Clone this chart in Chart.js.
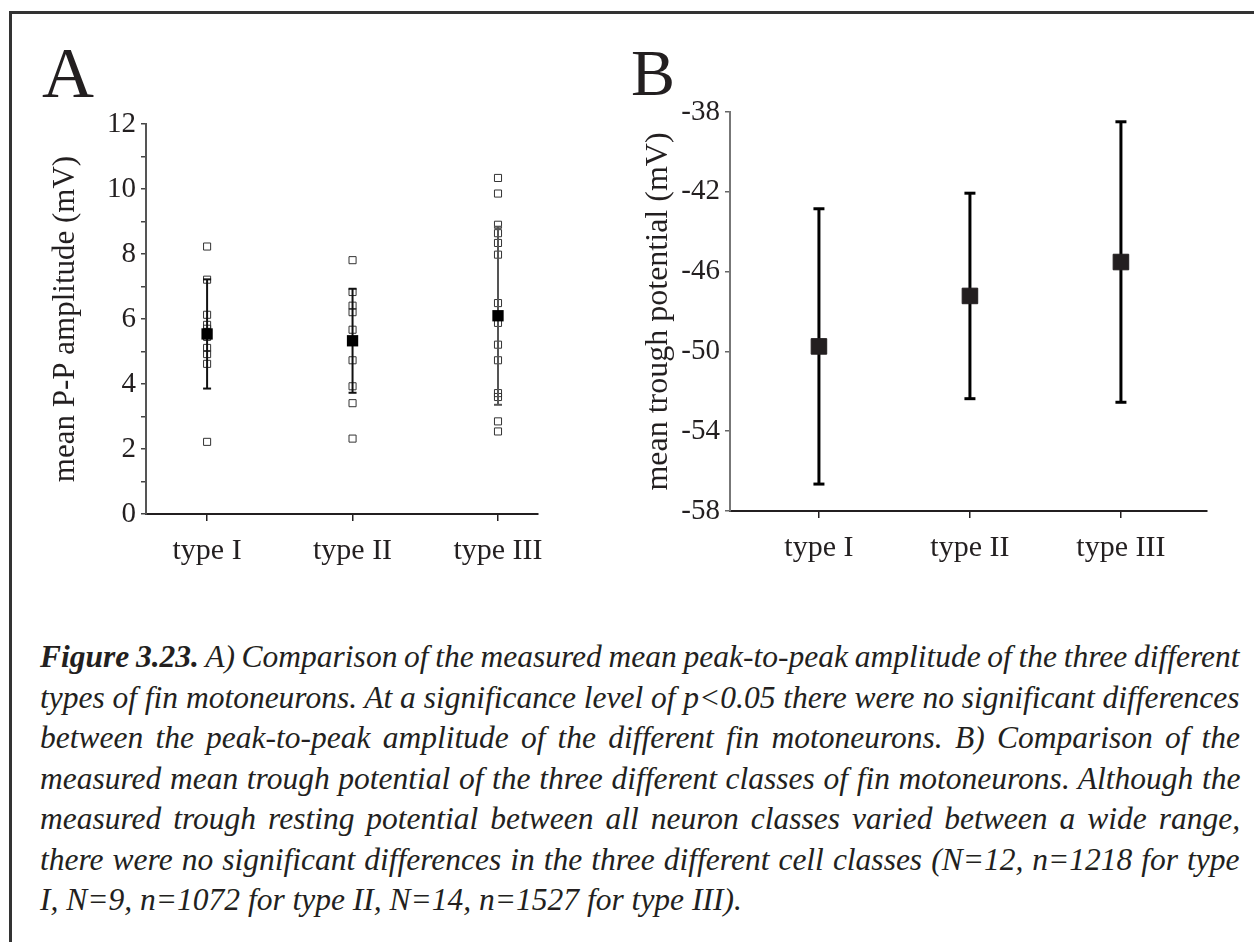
<!DOCTYPE html>
<html>
<head>
<meta charset="utf-8">
<script src="https://cdn.jsdelivr.net/npm/chart.js@4.4.0/dist/chart.umd.min.js"></script>
<style>
	body { margin: 0; background: #fff; width: 1254px; height: 942px; overflow: hidden; position: relative; font-family: "Liberation Serif", "Times New Roman", serif; color: #231f20; }
	#frame { position: absolute; left: 9px; top: 11px; width: 1400px; height: 1100px; border-top: 3px solid #333; border-left: 3px solid #333; }
	.letter { position: absolute; line-height: 1; }
	canvas { position: absolute; }
	#caption { position: absolute; left: 40px; top: 637px; width: 1200px; font-style: italic; font-size: 31.5px; line-height: 40.5px; }
	#caption div { white-space: nowrap; width: max-content; }
</style>
</head>
<body>
<div id="frame"></div>
<div class="letter" style="left:42px;top:37px;font-size:72px;">A</div>
<div class="letter" style="left:631px;top:40px;font-size:66px;">B</div>
<canvas id="graficoA" width="540" height="490" style="left:30px;top:90px;"></canvas>
<canvas id="graficoB" width="630" height="520" style="left:600px;top:60px;"></canvas>
<div id="caption">
	<div class="j"><b>Figure 3.23.</b> A) Comparison of the measured mean peak-to-peak amplitude of the three different</div>
	<div class="j">types of fin motoneurons. At a significance level of p&lt;0.05 there were no significant differences</div>
	<div class="j">between the peak-to-peak amplitude of the different fin motoneurons. B) Comparison of the</div>
	<div class="j">measured mean trough potential of the three different classes of fin motoneurons. Although the</div>
	<div class="j">measured trough resting potential between all neuron classes varied between a wide range,</div>
	<div class="j">there were no significant differences in the three different cell classes (N=12, n=1218 for type</div>
	<div>I, N=9, n=1072 for type II, N=14, n=1527 for type III).</div>
</div>
<script>
// categorias
var categories = ['type I', 'type II', 'type III'];

// A: amplitud P-P de cada neurona (mV)
var ampTypeI = [8.23, 7.21, 6.13, 5.82, 5.7, 5.6, 5.5, 5.45, 5.11, 4.92, 4.62, 2.22];
var ampTypeII = [7.81, 6.83, 6.41, 6.21, 5.67, 4.73, 3.93, 3.41, 2.32];
var ampTypeIII = [10.34, 9.86, 8.90, 8.64, 8.34, 7.98, 6.49, 5.88, 5.21, 4.73, 3.72, 3.60, 2.85, 2.54];
var ampMean = [5.54, 5.33, 6.10];
var ampSD = [1.68, 1.60, 2.74];
var ampTicks = [0, 2, 4, 6, 8, 10, 12];

// B: potencial valle (mV)
var troughMean = [-49.75, -47.22, -45.52];
var troughSD = [6.9, 5.15, 7.03];
var troughTicks = [-58, -54, -50, -46, -42, -38];

var negro = '#231f20';
var fuente = 'Liberation Serif';

// ajustar cada linea del texto al ancho de 1200px
document.querySelectorAll('#caption .j').forEach(function (linea) {
	var espacios = (linea.textContent.trim().match(/ /g) || []).length;
	var sobra = 1200 - linea.offsetWidth;
	var ws = sobra / espacios;
	if (ws < -2.5) {
		var letras = linea.textContent.trim().length;
		linea.style.letterSpacing = ((sobra + 2.5 * espacios) / letras) + 'px';
		ws = -2.5;
	}
	linea.style.wordSpacing = ws + 'px';
	var resto = 1200 - linea.offsetWidth;
	linea.style.wordSpacing = (ws + resto / espacios) + 'px';
});

function barra(i, media, sd, color, ancho, cap) {
	return {
		type: 'scatter',
		showLine: true,
		data: [{ x: i + 1, y: media - sd }, { x: i + 1, y: media + sd }],
		borderColor: color,
		borderWidth: ancho,
		pointStyle: 'line',
		pointRadius: cap,
		pointBorderWidth: ancho,
		pointBorderColor: color,
		pointBackgroundColor: color
	};
}

function ejeX(min, max, alto) {
	return {
		type: 'linear',
		min: min,
		max: max,
		afterBuildTicks: function (s) { s.ticks = categories.map(function (c, i) { return { value: i + 1 }; }); },
		afterFit: function (s) { s.height = alto; },
		ticks: { callback: function (v) { return categories[v - 1]; }, font: { family: fuente, size: 30 }, color: negro, padding: 12, autoSkip: false, maxRotation: 0 },
		grid: { drawOnChartArea: false, tickLength: 7, color: negro, lineWidth: 1.5 },
		border: { color: negro, width: 2 }
	};
}

// ---- grafico A ----
var datosA = [];
datosA.push({
	data: ampMean.map(function (m, i) { return { x: i + 1, y: m }; }),
	pointStyle: 'rect', pointRadius: 8, borderWidth: 0, backgroundColor: '#000', borderColor: '#000'
});
ampMean.forEach(function (m, i) {
	datosA.push(barra(i, m, ampSD[i], i === 2 ? '#555' : '#111', 2, 4));
});
[ampTypeI, ampTypeII, ampTypeIII].forEach(function (serie, i) {
	datosA.push({
		data: serie.map(function (v) { return { x: i + 1, y: v }; }),
		pointStyle: 'rect', pointRadius: 5, borderWidth: 1, borderColor: '#333', backgroundColor: 'rgba(0,0,0,0)'
	});
});

new Chart(document.getElementById('graficoA').getContext('2d'), {
	type: 'scatter',
	data: { datasets: datosA },
	options: {
		responsive: false,
		animation: false,
		layout: { padding: { left: 0, top: 34, right: 32, bottom: 0 } },
		plugins: { legend: { display: false }, tooltip: { enabled: false } },
		scales: {
			x: ejeX(0.58, 3.275, 66),
			y: {
				min: 0,
				max: 12,
				afterFit: function (s) { s.width = 116; },
				ticks: {
					stepSize: 1,
					autoSkip: false,
					callback: function (v) { return ampTicks.indexOf(v) >= 0 ? v : ''; },
					font: { family: fuente, size: 29 }, color: negro, padding: 5
				},
				grid: { drawOnChartArea: false, tickLength: 5, color: '#444', lineWidth: 1.5 },
				border: { color: '#555', width: 2 },
				title: { display: true, text: 'mean P-P amplitude (mV)', font: { family: fuente, size: 31 }, color: negro, padding: { top: 17, bottom: 0 } }
			}
		}
	}
});

// ---- grafico B ----
var datosB = [];
datosB.push({
	data: troughMean.map(function (m, i) { return { x: i + 1, y: m }; }),
	pointStyle: 'rect', pointRadius: 11, borderWidth: 1, backgroundColor: negro, borderColor: negro
});
troughMean.forEach(function (m, i) {
	datosB.push(barra(i, m, troughSD[i], '#000', 3, 5.5));
});

new Chart(document.getElementById('graficoB').getContext('2d'), {
	type: 'scatter',
	data: { datasets: datosB },
	options: {
		responsive: false,
		animation: false,
		layout: { padding: { left: 0, top: 52, right: 23, bottom: 0 } },
		plugins: { legend: { display: false }, tooltip: { enabled: false } },
		scales: {
			x: ejeX(0.411, 3.57, 69),
			y: {
				min: troughTicks[0],
				max: troughTicks[troughTicks.length - 1],
				afterFit: function (s) { s.width = 130; },
				ticks: { stepSize: 4, autoSkip: false, font: { family: fuente, size: 29 }, color: negro, padding: 5 },
				grid: { drawOnChartArea: false, tickLength: 5, color: '#666', lineWidth: 1.5 },
				border: { color: '#777', width: 2 },
				title: { display: true, text: 'mean trough potential (mV)', font: { family: fuente, size: 32 }, color: negro, padding: { top: 39, bottom: 0 } }
			}
		}
	}
});
</script>
</body>
</html>
